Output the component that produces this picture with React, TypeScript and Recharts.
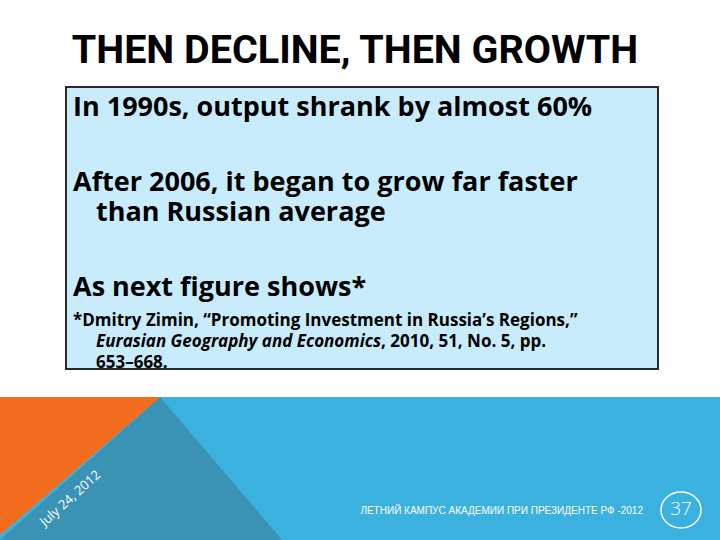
import React from "react";
import { Surface, Polygon, Rectangle, Text } from "recharts";

// Slide content
const title = "THEN DECLINE, THEN GROWTH";
const bullets = [
  { lines: ["In 1990s, output shrank by almost 60%"], top: 91 },
  { lines: ["After 2006, it began to grow far faster", "than Russian average"], top: 166 },
  { lines: ["As next figure shows*"], top: 271 },
];
const footnoteAuthor = "*Dmitry Zimin, \u201cPromoting Investment in Russia\u2019s Regions,\u201d";
const footnoteJournal = "Eurasian Geography and Economics";
const footnoteRest = ", 2010, 51, No. 5, pp.";
const footnotePages = "653\u2013668.";
const dateLabel = "July 24, 2012";
const footerLabel = "ЛЕТНИЙ КАМПУС АКАДЕМИИ ПРИ ПРЕЗИДЕНТЕ РФ -2012";
const slideNumber = "37";

const W = 720;
const H = 540;
const BAND_TOP = 397;

const bodyFont = "'Open Sans', sans-serif";

export default function App() {
  const noteStyle: React.CSSProperties = {
    position: "absolute",
    left: 29,
    fontSize: 17,
    lineHeight: "21px",
    fontWeight: 700,
    whiteSpace: "nowrap",
  };
  return (
    <div
      style={{
        position: "absolute",
        left: 0,
        top: 0,
        width: W,
        height: H,
        background: "#ffffff",
        overflow: "hidden",
      }}
    >
      <Surface width={W} height={H} style={{ position: "absolute", left: 0, top: 0 }}>
        {/* bottom band */}
        <Rectangle x={0} y={BAND_TOP} width={W} height={H - BAND_TOP} fill="#3bb1df" />
        <Polygon
          points={[
            { x: 160, y: BAND_TOP },
            { x: 282, y: H },
            { x: 0, y: H },
          ]}
          fill="#3a93b4"
        />
        <Polygon
          points={[
            { x: 0, y: BAND_TOP },
            { x: 160, y: BAND_TOP },
            { x: 0, y: 535 },
          ]}
          fill="#f46c1e"
        />
        <Text
          x={70}
          y={498}
          angle={-42}
          textAnchor="middle"
          verticalAnchor="middle"
          fill="#ffffff"
          fontSize={13}
          fontFamily="'Open Sans', sans-serif"
        >
          {dateLabel}
        </Text>
        <Text
          x={643}
          y={510}
          textAnchor="end"
          verticalAnchor="middle"
          fill="#ffffff"
          fontSize={10}
          fontFamily="'Liberation Sans Narrow', 'Liberation Sans', sans-serif"
        >
          {footerLabel}
        </Text>
        <ellipse cx={681} cy={510} rx={20} ry={18} fill="none" stroke="#ffffff" strokeWidth={1.5} />
        <Text
          x={681}
          y={508}
          textAnchor="middle"
          verticalAnchor="middle"
          fill="#ffffff"
          fontSize={19}
          fontFamily="'Open Sans', sans-serif"
          fontWeight={300}
        >
          {slideNumber}
        </Text>
        {/* title */}
        <Text
          x={355}
          y={63}
          textAnchor="middle"
          fill="#000000"
          fontSize={39.5}
          fontWeight={700}
          fontFamily="Roboto, sans-serif"
        >
          {title}
        </Text>
      </Surface>

      {/* text box */}
      <div
        style={{
          position: "absolute",
          left: 65,
          top: 86,
          width: 590,
          height: 280,
          background: "#c8ecfb",
          border: "2px solid #2a2a2a",
        }}
      />
      <div
        style={{
          position: "absolute",
          left: 67,
          top: 88,
          width: 590,
          height: 280,
          fontFamily: bodyFont,
          color: "#000",
        }}
      >
        {bullets.map((b, i) =>
          b.lines.map((ln, j) => (
            <div
              key={`${i}-${j}`}
              style={{
                position: "absolute",
                left: j === 0 ? 6 : 29,
                top: b.top - 88 + j * 30,
                fontSize: 27,
                fontWeight: 700,
                lineHeight: "30px",
                whiteSpace: "nowrap",
              }}
            >
              {ln}
            </div>
          ))
        )}
        <div style={{ ...noteStyle, left: 6, top: 221 }}>{footnoteAuthor}</div>
        <div style={{ ...noteStyle, top: 242 }}>
          <i>{footnoteJournal}</i>
          {footnoteRest}
        </div>
        <div style={{ ...noteStyle, top: 263 }}>{footnotePages}</div>
      </div>
    </div>
  );
}
